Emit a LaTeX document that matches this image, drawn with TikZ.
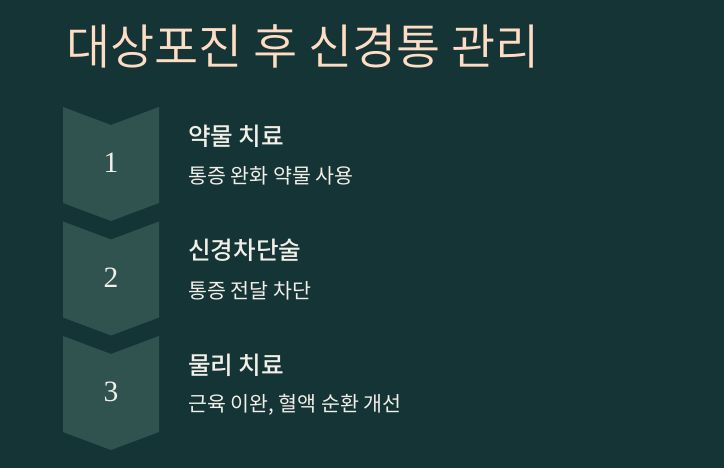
\documentclass[tikz,border=0pt]{standalone}
\usepackage{fontspec}
\newfontfamily\kr{Noto Sans CJK KR}
\newfontfamily\krmed{Noto Sans CJK KR Medium}
\newfontfamily\krlight{Noto Sans CJK KR DemiLight}
\newfontfamily\numfont{Liberation Serif}
\usetikzlibrary{calc}
\definecolor{bgteal}{RGB}{20,52,54}
\definecolor{chevfill}{RGB}{49,83,80}
\definecolor{peach}{RGB}{255,221,196}
\definecolor{cream}{RGB}{242,238,232}
\tikzset{%
  % Specifications for style of nodes:
    chevron/.style = {fill=chevfill, draw=none},
    number/.style = {inner sep=0pt, text=cream,
                     font=\numfont\fontsize{29.5}{29.5}\selectfont},
    heading/.style = {anchor=west, inner sep=0pt, text=cream,
                      font=\krmed\fontsize{24.6}{24.6}\selectfont},
    detail/.style = {anchor=west, inner sep=0pt, text=cream,
                     font=\kr\fontsize{20.6}{20.6}\selectfont},
    title/.style = {anchor=west, inner sep=0pt, text=peach,
                    font=\krlight\fontsize{48}{48}\selectfont}%
}
\begin{document}
\begin{tikzpicture}[x=1pt,y=-1pt]
\def\Xl{63}
\def\Xm{111}
\def\Xr{159}
\def\Ht{96}
\def\Dp{18}
\def\Xt{188}

\fill[bgteal] (0,0) rectangle (724,468);
\useasboundingbox (0,0) rectangle (724,468);

\node[title] (T) at (66,46) {대상포진 후 신경통 관리};

\coordinate (C1) at (0,107); %first chevron
\coordinate (C2) at (0,221.5);
\coordinate (C3) at (0,336);

\fill[chevron] ($(\Xl,0)+(C1)$) -- ($(\Xm,\Dp)+(C1)$) -- ($(\Xr,0)+(C1)$) -- ($(\Xr,\Ht)+(C1)$) -- ($(\Xm,\Ht+\Dp)+(C1)$) -- ($(\Xl,\Ht)+(C1)$) -- cycle;
\fill[chevron] ($(\Xl,0)+(C2)$) -- ($(\Xm,\Dp)+(C2)$) -- ($(\Xr,0)+(C2)$) -- ($(\Xr,\Ht)+(C2)$) -- ($(\Xm,\Ht+\Dp)+(C2)$) -- ($(\Xl,\Ht)+(C2)$) -- cycle;
\fill[chevron] ($(\Xl,0)+(C3)$) -- ($(\Xm,\Dp)+(C3)$) -- ($(\Xr,0)+(C3)$) -- ($(\Xr,\Ht)+(C3)$) -- ($(\Xm,\Ht+\Dp)+(C3)$) -- ($(\Xl,\Ht)+(C3)$) -- cycle;

\node[number] (N1) at ($(\Xm,56)+(C1)$) {1};
\node[number] (N2) at ($(\Xm,56)+(C2)$) {2};
\node[number] (N3) at ($(\Xm,56)+(C3)$) {3};

\node[heading] (H1) at ($(\Xt,29)+(C1)$) {약물 치료};
\node[detail] (D1) at ($(\Xt,69)+(C1)$) {통증 완화 약물 사용};

\node[heading] (H2) at ($(\Xt,29)+(C2)$) {신경차단술};
\node[detail] (D2) at ($(\Xt,69)+(C2)$) {통증 전달 차단};

\node[heading] (H3) at ($(\Xt,29)+(C3)$) {물리 치료};
\node[detail] (D3) at ($(\Xt,69)+(C3)$) {근육 이완, 혈액 순환 개선};

\end{tikzpicture}
\end{document}
